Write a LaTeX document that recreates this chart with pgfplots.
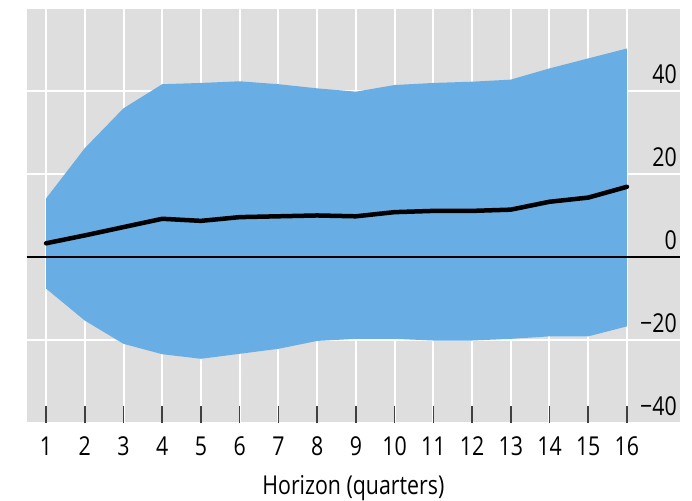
\documentclass[border=0pt]{standalone}
\usepackage{fontspec}
\setmainfont[FakeStretch=0.82]{Open Sans}
\usepackage{pgfplots}
\pgfplotsset{compat=1.18}
\usepackage{pgfplotstable}
\usepgfplotslibrary{fillbetween}
\definecolor{graybg}{RGB}{222,222,222}
\definecolor{bandblue}{RGB}{104,174,228}
\definecolor{tickgray}{RGB}{64,64,64}

\pgfplotstableread{
h upper mid lower
1 14.1 3.3 -7.6
2 26.2 5.2 -15.3
3 35.8 7.2 -20.9
4 41.6 9.2 -23.4
5 41.9 8.7 -24.5
6 42.3 9.6 -23.3
7 41.6 9.8 -22.1
8 40.6 10.0 -20.2
9 39.8 9.8 -19.7
10 41.4 10.8 -19.7
11 41.9 11.1 -20.1
12 42.2 11.1 -20.1
13 42.7 11.4 -19.7
14 45.4 13.3 -19.1
15 47.8 14.3 -19.1
16 50.2 16.9 -16.7
}\irf

\begin{document}
\fontsize{26pt}{30pt}\selectfont
\begin{tikzpicture}
\begin{axis}[
  scale only axis,
  width=653pt, height=414pt,
  xmin=0.5, xmax=17.37,
  ymin=-40, ymax=59.7,
  axis background/.style={fill=graybg},
  axis line style={draw=none},
  xtick={1,...,16},
  xticklabels={1,2,3,4,5,6,7,8,9,10,11,12,13,14,15,16},
  xtick pos=left,
  tick align=inside,
  major tick length=17pt,
  xtick style={tickgray, line width=1.5pt},
  xticklabel style={anchor=base, inner sep=0pt, yshift=-32.3pt},
  ytick={-40,-20,0,20,40},
  yticklabels={−40,−20,0,20,40},
  yticklabel pos=right,
  ytick style={draw=none},
  yticklabel style={anchor=base east, inner sep=0pt, xshift=-3pt, yshift=7.3pt},
  xmajorgrids, ymajorgrids,
  major grid style={white, line width=2pt},
  xlabel={Horizon (quarters)},
  xlabel style={at={(rel axis cs:0.5,0)}, anchor=base, inner sep=0pt, yshift=-71.3pt},
  /pgf/number format/assume math mode=true,
  clip=false,
]
\addplot[name path=up, draw=none] table[x=h, y=upper] {\irf};
\addplot[name path=lo, draw=none] table[x=h, y=lower] {\irf};
\addplot[bandblue, draw=none] fill between[of=up and lo];
\addplot[black, line width=1.3pt] coordinates {(0.5,0) (17.37,0)};
\addplot[black, line width=4.5pt, line join=round, line cap=round] table[x=h, y=mid] {\irf};
\end{axis}
\path ([xshift=-26.7pt,yshift=-76.3pt]current axis.south west) rectangle ([xshift=12pt,yshift=9pt]current axis.north east);
\end{tikzpicture}
\end{document}
